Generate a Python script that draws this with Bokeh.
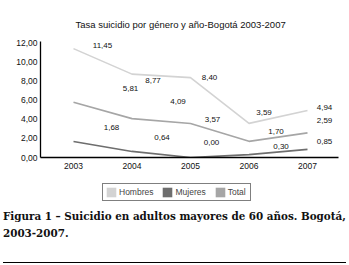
from bokeh.plotting import figure
from bokeh.layouts import column
from bokeh.models import (ColumnDataSource, FixedTicker, Legend, LegendItem,
                          Range1d, Label, Div)
from bokeh.core.properties import value
from bokeh.embed import file_html
from bokeh.resources import INLINE

# ---- data ----
years = [2003, 2004, 2005, 2006, 2007]
hombres = [11.45, 8.77, 8.40, 3.59, 4.94]
mujeres = [1.68, 0.64, 0.00, 0.30, 0.85]
total = [5.81, 4.09, 3.57, 1.70, 2.59]
series_names = ["Hombres", "Mujeres", "Total"]
yticks = [0, 2, 4, 6, 8, 10, 12]
ytick_labels = ["0,00", "2,00", "4,00", "6,00", "8,00", "10,00", "12,00"]
xtick_labels = ["2003", "2004", "2005", "2006", "2007"]
title_text = "Tasa suicidio por género y año-Bogotá 2003-2007"
caption_1 = "Figura 1 – Suicidio en adultos mayores de 60 años. Bogotá,"
caption_2 = "2003-2007."

# ---- styles ----
colors = {"Hombres": "#d3d3d3", "Mujeres": "#6e6e6e", "Total": "#a6a6a6"}
# label nudges in pixels (dx right, dy down)
label_dx = {"Hombres": [29, 21, 19, 15, 17],
            "Mujeres": [38, 30, 21, 32, 17],
            "Total":   [57, 46, 22, 27, 17]}
label_dy = {"Hombres": [-3, 6, 0, -11, -3],
            "Mujeres": [-14, -14, -15, -8, -8],
            "Total":   [-14, -17, -4, -10, -12]}
SANS = "Liberation Sans"
SERIF = "DejaVu Serif Condensed"
NAN = float("nan")

W = 349
HT, H1, H2, H3 = 36, 144, 25, 60


def blank_fig(h):
    f = figure(width=W, height=h, output_backend="svg", toolbar_location=None,
               x_range=Range1d(0, 1), y_range=Range1d(0, 1),
               x_axis_type=None, y_axis_type=None,
               min_border=0, min_border_left=0, min_border_right=0,
               min_border_top=0, min_border_bottom=0)
    f.outline_line_color = None
    f.xgrid.visible = False
    f.ygrid.visible = False
    return f


# title panel
t = blank_fig(HT)
t.add_layout(Label(x=35, y=12, x_units="screen", y_units="screen",
                   text=title_text, text_font=SANS, text_font_size="9.5px",
                   text_align="left", text_baseline="alphabetic",
                   text_color="#111111"))

# chart
p = figure(width=W, height=H1, output_backend="svg", toolbar_location=None,
           x_range=Range1d(2002.436, 2007.53), y_range=Range1d(0, 12.2),
           min_border_left=40, min_border_right=11, min_border_top=5,
           min_border_bottom=23)
p.outline_line_color = None
p.xgrid.visible = False
p.ygrid.visible = False
p.background_fill_color = "white"
p.border_fill_color = "white"

for ax in (p.xaxis[0], p.yaxis[0]):
    ax.axis_line_color = "black"
    ax.axis_line_width = 1.3
    ax.major_tick_line_color = None
    ax.minor_tick_line_color = None
    ax.major_tick_out = 0
    ax.major_tick_in = 0
    ax.minor_tick_out = 0
    ax.minor_tick_in = 0
    ax.major_label_text_font = SANS
    ax.major_label_text_font_size = "8.5px"
    ax.major_label_text_color = "#111111"

p.yaxis.ticker = FixedTicker(ticks=yticks)
p.yaxis.major_label_overrides = {t_: l for t_, l in zip(yticks, ytick_labels)}
p.yaxis.major_label_standoff = 3
p.xaxis.ticker = FixedTicker(ticks=years)
p.xaxis.major_label_overrides = {y: l for y, l in zip(years, xtick_labels)}
p.xaxis.major_label_standoff = 5

data = {"Hombres": hombres, "Mujeres": mujeres, "Total": total}
for name in ["Hombres", "Total", "Mujeres"]:
    vals = data[name]
    src = ColumnDataSource(dict(
        x=years, y=vals,
        lab=[f"{v:.2f}".replace(".", ",") for v in vals],
        dx=label_dx[name], dy=label_dy[name]))
    p.line("x", "y", source=src, line_color=colors[name], line_width=1.6)
    p.text("x", "y", text="lab", source=src, x_offset="dx", y_offset="dy",
           text_font=value(SANS), text_font_size="8px", text_color="#111111",
           text_align="center", text_baseline="middle")

# legend panel
c = blank_fig(H2)
legend_renderers = {}
for name in series_names:
    legend_renderers[name] = c.quad(left=[NAN], right=[NAN], top=[NAN],
                                    bottom=[NAN], fill_color=colors[name],
                                    line_color=None)
legend = Legend(items=[LegendItem(label=n, renderers=[legend_renderers[n]])
                       for n in series_names],
                orientation="horizontal", location=(62, 4.3),
                glyph_width=12, glyph_height=12, padding=2, spacing=8,
                label_standoff=2, label_text_font=SANS,
                label_text_font_size="8.5px", label_height=12,
                border_line_color="black", border_line_width=1,
                background_fill_color="white", background_fill_alpha=1)
c.add_layout(legend, "center")

# caption
caption_html = (
    '<div style="position:relative;width:349px;height:60px;margin:0;padding:0;">'
    '<div style="position:absolute;left:3px;top:2.5px;'
    f"font-family:'{SERIF}','DejaVu Serif',serif;font-weight:bold;"
    'font-size:11.5px;line-height:17px;color:#111111;white-space:nowrap;">'
    f'{caption_1}<br>{caption_2}</div>'
    '<div style="position:absolute;left:3px;top:57px;width:343px;height:1px;'
    'background:#000000;"></div></div>'
)
d = Div(text=caption_html, width=W, height=H3, margin=0)

layout = column(t, p, c, d, spacing=0)
open("out.html", "w").write(file_html(layout, INLINE))
